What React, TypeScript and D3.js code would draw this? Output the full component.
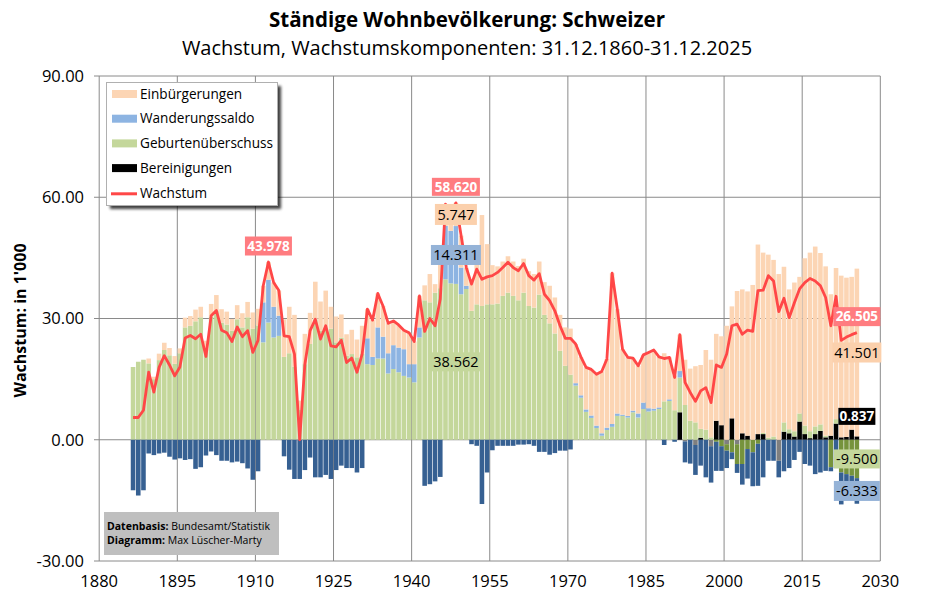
import React from 'react';
import * as d3 from 'd3';

// Ständige Wohnbevölkerung Schweizer, Werte in 1'000, ab 1886
const firstYear = 1886;

const einbuergerungen = [
  0, 0, 0, 1.2, 0.6, 1.6, 1.8, 1.8, 1.9, 1.2,
  2.4, 2.4, 2.9, 2.6, 2.0, 3.1, 3.8, 3.3, 3.2, 2.9,
  3.5, 3.5, 3.8, 4.0, 4.1, 4.1, 4.378, 6.0, 6.2, 9.3,
  11.5, 12.8, 2.2, 7.5, 7.7, 9.3, 7.2, 9.1, 5.4, 6.4,
  5.7, 5.3, 6.0, 4.4, 7.0, 7.2, 9.1, 8.4, 7.6, 7.4,
  6.0, 5.6, 4.7, 7.8, 5.6, 7.8, 3.7, 7.0, 2.1, 6.5,
  5.4, 3.7, 5.747, 7.9, 4.5, 7.7, 10.2, 22.5, 14.9, 9.7,
  9.2, 8.5, 9.0, 8.5, 8.5, 8.4, 8.6, 8.3, 8.2, 8.1,
  9.3, 8.9, 8.9, 9.5, 11.4, 9.7, 9.5, 10.4, 11.4, 12.7,
  15.3, 17.0, 37.3, 25.8, 16.2, 14.5, 13.0, 11.8, 11.8, 13.8,
  14.5, 12.5, 11.9, 10.4, 8.6, 9.0, 11.2, 12.9, 13.9, 15.8,
  19.7, 19.2, 21.5, 22.0, 28.2, 27.7, 36.8, 35.6, 35.7, 38.3,
  46.9, 44.6, 45.3, 43.7, 41.0, 38.5, 34.6, 36.8, 33.8, 41.4,
  44.2, 44.5, 42.4, 41.9, 35.0, 37.4, 40.0, 39.4, 37.8, 41.501,
];

const wanderungssaldo = [
  -12.5, -13.8, -12.5, -3.4, -3.8, -3.4, -3.2, -4.2, -4.9, -4.6,
  -5.0, -4.8, -7.2, -6.8, -3.9, -2.9, -3.8, -5.2, -5.2, -5.6,
  -5.4, -5.8, -7.1, -9.9, -7.8, 9.9, 10.6, 7.6, 5.0, -4.1,
  -7.4, -9.7, -9.7, -7.5, -4.4, -9.3, -9.3, -8.7, -9.7, -7.5,
  -6.4, -7.0, -7.0, -8.1, -7.0, 6.4, 2.0, 7.7, 5.4, 5.0,
  5.9, 6.1, 6.6, 3.3, 4.5, 2.5, -11.4, -11.0, -10.3, -9.2,
  13.2, 13.0, 14.311, 6.6, 0.8, -1.1, -1.5, -15.9, -8.1, -2.6,
  -1.5, -1.5, -1.5, -1.5, -1.2, -1.2, -1.1, -1.5, -3.0, -3.0,
  -3.7, -3.3, -2.7, -2.7, -2.4, 0.6, 0.6, 0.6, 0.6, 0.6,
  0.6, 0.6, 0.7, 0.6, 0.3, 0.4, 0.4, 1.0, 1.6, 0.8,
  0.5, 0.4, -1.3, 0.4, -0.5, 1.6, -5.2, -5.9, -7.4, -6.4,
  -9.3, -9.0, -7.2, -6.1, -4.3, -1.7, -2.2, -5.1, -7.3, -8.4,
  -10.4, -9.3, -5.2, -5.2, -4.1, -7.8, -7.0, -5.0, -3.0, -6.0,
  -6.4, -8.5, -8.1, -7.7, -1.0, -7.0, -7.9, -6.2, -5.4, -6.333,
];

const geburtenueberschuss = [
  18.0, 19.3, 19.8, 18.9, 15.0, 19.7, 22.2, 20.9, 18.8, 21.4,
  27.8, 28.2, 29.3, 30.3, 22.5, 30.5, 32.0, 29.0, 28.5, 27.0,
  29.8, 27.8, 30.3, 27.5, 28.3, 24.1, 29.0, 25.3, 25.7, 20.5,
  21.4, 18.1, 7.5, 18.7, 23.7, 29.8, 27.0, 27.8, 27.5, 24.1,
  25.3, 20.8, 21.2, 20.4, 21.2, 18.7, 18.5, 20.1, 20.1, 16.4,
  17.5, 16.7, 15.8, 15.4, 14.2, 25.3, 34.5, 34.0, 36.4, 37.5,
  39.7, 38.7, 38.562, 36.0, 37.3, 31.9, 33.5, 33.1, 33.5, 33.5,
  33.7, 35.6, 36.4, 35.6, 34.5, 36.4, 33.1, 32.7, 35.9, 30.9,
  28.8, 26.3, 22.0, 18.3, 16.1, 13.4, 10.4, 6.9, 5.4, 2.9,
  1.0, 2.4, 3.2, 5.9, 5.9, 5.5, 6.8, 5.5, 7.6, 7.0,
  7.2, 7.6, 9.5, 9.6, 7.3, 8.6, 8.6, 4.7, 4.3, 2.2,
  2.5, 0.6, -0.5, -1.6, -1.6, -3.1, -4.9, -6.0, -2.3, -3.1,
  -1.0, 0.3, 0.5, 0.8, 0.0, 2.3, 1.0, 1.3, 2.0, 2.1,
  1.7, 1.9, 1.6, 0.4, -6.8, 1.1, -8.1, -8.5, -8.9, -9.5,
];

// Bereinigungen erst ab 1986 (vorher keine)
const bereinigungenStart = 1986;
const bereinigungen = [
  0, 0, 0, 0, 0, 6.8, -0.4, 0, -1.3, 0.5,
  0, -1.6, 4.7, 3.6, -1.1, 5.3, -1.1, 1.6, 1.0, 0,
  1.4, 1.4, 0, 0, -5.2, 2.0, 1.6, 0.8, 4.5, 1.4,
  0.4, 1.4, 2.2, 0.6, 1.0, 4.0, 0.6, 0.7, 2.5, 0.837,
];

const wachstum = [
  5.5, 5.5, 7.3, 16.7, 11.8, 17.9, 20.8, 18.5, 15.8, 18.0,
  25.2, 25.8, 25.0, 26.1, 20.6, 30.7, 32.0, 27.1, 26.5, 24.3,
  27.9, 25.5, 27.0, 21.6, 24.6, 38.1, 43.978, 38.9, 36.9, 25.7,
  25.5, 21.2, 0.0, 18.7, 27.0, 29.8, 24.9, 28.2, 23.2, 23.0,
  24.6, 19.1, 20.2, 16.7, 21.2, 32.3, 29.6, 36.2, 33.1, 28.8,
  29.4, 28.4, 27.1, 26.5, 24.3, 35.6, 26.8, 30.0, 28.2, 34.8,
  58.3, 55.4, 58.62, 50.5, 42.6, 38.5, 42.2, 39.7, 40.3, 40.6,
  41.4, 42.6, 43.9, 42.6, 41.8, 43.6, 40.6, 39.5, 41.1, 36.0,
  34.4, 31.9, 28.2, 25.1, 25.1, 23.7, 20.5, 17.9, 17.4, 16.2,
  16.9, 20.0, 41.2, 32.3, 22.4, 20.4, 20.2, 18.3, 21.0, 21.6,
  22.2, 20.5, 20.1, 20.4, 15.4, 26.0, 14.2, 11.7, 9.5, 12.1,
  12.9, 9.2, 18.5, 17.9, 21.2, 28.2, 28.6, 26.1, 27.1, 26.8,
  36.9, 37.0, 40.6, 39.3, 31.7, 35.0, 30.2, 33.9, 37.3, 38.9,
  39.9, 39.3, 38.1, 35.2, 28.2, 35.5, 24.6, 25.4, 26.0, 26.505,
];

const xTicks = [1880, 1895, 1910, 1925, 1940, 1955, 1970, 1985, 2000, 2015, 2030];
const yTicks = [-30, 0, 30, 60, 90];

const C = {
  einb: '#fcd5b4',
  wandPos: '#8db4e2',
  wandNeg: '#366092',
  gebPos: '#c4d79b',
  gebNeg: '#76933c',
  berPos: '#000000',
  berNeg: '#7f7f7f',
  line: '#ff4747',
  grid: '#8a8a8a',
  red: '#ff7c80',
};

const FONT = '"Open Sans", "Noto Sans", sans-serif';

const width = 934;
const height = 597;

const x = d3.scaleLinear().domain([1880, 2030]).range([99.2, 880.3]);
const y = d3.scaleLinear().domain([-30, 90]).range([561, 76]);

const years = wachstum.map((_, i) => firstYear + i);
const bw = (x(1881) - x(1880)) * 0.88;

function berOf(year: number) {
  const k = year - bereinigungenStart;
  return k >= 0 ? bereinigungen[k] : 0;
}

type Seg = { year: number; y0: number; y1: number; color: string };

function buildSegments(): Seg[] {
  const segs: Seg[] = [];
  years.forEach((year, i) => {
    const parts = [
      { v: berOf(year), pos: C.berPos, neg: C.berNeg },
      { v: geburtenueberschuss[i], pos: C.gebPos, neg: C.gebNeg },
      { v: wanderungssaldo[i], pos: C.wandPos, neg: C.wandNeg },
      { v: einbuergerungen[i], pos: C.einb, neg: C.einb },
    ];
    let up = 0;
    let down = 0;
    parts.forEach((p) => {
      if (p.v === 0) return;
      if (p.v > 0) {
        segs.push({ year, y0: up, y1: up + p.v, color: p.pos });
        up += p.v;
      } else {
        segs.push({ year, y0: down + p.v, y1: down, color: p.neg });
        down += p.v;
      }
    });
  });
  return segs;
}

// Excel zeigt Bindestrich statt Minuszeichen
const fmt = (v: number) => v.toFixed(3);

function Label({ cx, cy, w, h, fill, text, color, bold }: any) {
  return (
    <g>
      <rect x={cx - w / 2} y={cy - h / 2} width={w} height={h} fill={fill} />
      <text
        x={cx}
        y={cy}
        dy="0.36em"
        textAnchor="middle"
        fontSize={bold ? 13.5 : 14.5}
        fontWeight={bold ? 700 : 400}
        fill={color}
        fontFamily={FONT}
      >
        {text}
      </text>
    </g>
  );
}

export default function App() {
  const segs = buildSegments();
  const line = d3
    .line<number>()
    .x((_, i) => x(years[i] + 0.5))
    .y((d) => y(d));

  const legendItems = [
    { label: 'Einbürgerungen', color: C.einb, kind: 'rect' },
    { label: 'Wanderungssaldo', color: C.wandPos, kind: 'rect' },
    { label: 'Geburtenüberschuss', color: C.gebPos, kind: 'rect' },
    { label: 'Bereinigungen', color: C.berPos, kind: 'rect' },
    { label: 'Wachstum', color: C.line, kind: 'line' },
  ];

  // Beschriftete Jahre
  const iMax = wachstum.indexOf(d3.max(wachstum) as number);
  const yMax = years[iMax];
  const i1912 = 1912 - firstYear;
  const iLast = years.length - 1;
  const yLast = years[iLast];

  const gMax = geburtenueberschuss[iMax];
  const wMax = wanderungssaldo[iMax];
  const eMax = einbuergerungen[iMax];
  const bLast = berOf(yLast);
  const gLast = geburtenueberschuss[iLast];
  const wLast = wanderungssaldo[iLast];
  const eLast = einbuergerungen[iLast];

  return (
    <svg
      width={width}
      height={height}
      style={{ position: 'absolute', left: 0, top: 0, background: '#fff' }}
      fontFamily={FONT}
    >
      <defs>
        <filter id="shadow" x="-10%" y="-10%" width="130%" height="130%">
          <feGaussianBlur stdDeviation="1.6" />
        </filter>
      </defs>

      {/* Titel */}
      <text x={467} y={27} textAnchor="middle" fontSize={20.5} fontWeight={700}>
        Ständige Wohnbevölkerung: Schweizer
      </text>
      <text x={467} y={54.5} textAnchor="middle" fontSize={20}>
        Wachstum, Wachstumskomponenten: 31.12.1860-31.12.2025
      </text>

      {/* Gitter */}
      {yTicks.map((t) => (
        <g key={'y' + t}>
          <line x1={94} x2={x(2030)} y1={y(t)} y2={y(t)} stroke={C.grid} strokeWidth={1} />
          <text x={84} y={y(t)} dy="0.35em" textAnchor="end" fontSize={16.5}>
            {t.toFixed(2)}
          </text>
        </g>
      ))}
      {xTicks.map((t) => (
        <g key={'x' + t}>
          <line x1={x(t)} x2={x(t)} y1={y(90)} y2={y(-30)} stroke={C.grid} strokeWidth={1} />
          <text x={x(t)} y={587} textAnchor="middle" fontSize={16.5}>
            {t}
          </text>
        </g>
      ))}

      <text
        transform={`translate(26,${(y(90) + y(-30)) / 2 + 2}) rotate(-90)`}
        textAnchor="middle"
        fontSize={16}
        fontWeight={700}
      >
        Wachstum: in 1'000
      </text>

      {/* Balken */}
      {segs.map((s, i) => (
        <rect
          key={i}
          x={x(s.year + 0.5) - bw / 2}
          width={bw}
          y={y(s.y1)}
          height={Math.max(0, y(s.y0) - y(s.y1))}
          fill={s.color}
        />
      ))}

      {/* Wachstum */}
      <path
        d={line(wachstum) as string}
        fill="none"
        stroke={C.line}
        strokeWidth={2.8}
        strokeLinejoin="round"
      />

      {/* Datenbeschriftungen */}
      <Label cx={x(1912.5)} cy={y(wachstum[i1912]) - 16} w={47} h={19} fill={C.red} text={fmt(wachstum[i1912])} color="#fff" bold />
      <Label cx={x(yMax + 0.5)} cy={y(wachstum[iMax]) - 16} w={48} h={18} fill={C.red} text={fmt(wachstum[iMax])} color="#fff" bold />
      <Label cx={x(yMax + 0.5)} cy={y(gMax + wMax + eMax / 2)} w={42} h={21} fill="#fbd0ac" text={fmt(eMax)} color="#000" />
      <Label cx={x(yMax + 0.5)} cy={y(gMax + wMax / 2)} w={50} h={20} fill="#95b3d7" text={fmt(wMax)} color="#000" />
      <Label cx={x(yMax + 0.5)} cy={y(gMax / 2)} w={48} h={19} fill={C.gebPos} text={fmt(gMax)} color="#000" />

      <Label cx={x(yLast + 0.5)} cy={y(wachstum[iLast]) - 16} w={47} h={19} fill={C.red} text={fmt(wachstum[iLast])} color="#fff" bold />
      <Label cx={x(yLast + 0.5)} cy={y(bLast + eLast / 2)} w={49} h={20} fill="#fbd0ac" text={fmt(eLast)} color="#000" />
      <Label cx={x(yLast + 0.5)} cy={y(bLast) - 20} w={37} h={17} fill="#000" text={fmt(bLast)} color="#fff" bold />
      <Label cx={x(yLast + 0.5)} cy={y(gLast / 2)} w={46} h={19} fill={C.gebPos} text={fmt(gLast)} color="#000" />
      <Label cx={x(yLast + 0.5)} cy={y(gLast + wLast / 2)} w={46} h={20} fill="#95b3d7" text={fmt(wLast)} color="#000" />

      {/* Legende */}
      <rect x={110} y={86} width={171} height={123} fill="#000" opacity={0.75} filter="url(#shadow)" />
      <rect x={106.5} y={82.5} width={171} height={123} fill="#fff" stroke="#b0b0b0" strokeWidth={1} />
      {legendItems.map((it, i) => {
        const cy = 94 + i * 24.7;
        return (
          <g key={it.label}>
            {it.kind === 'rect' ? (
              <rect x={112} y={cy - 4} width={25} height={8} fill={it.color} />
            ) : (
              <line x1={111} x2={137} y1={cy + 1} y2={cy + 1} stroke={it.color} strokeWidth={3} />
            )}
            <text x={140} y={cy} dy="0.35em" fontSize={13.6}>
              {it.label}
            </text>
          </g>
        );
      })}

      {/* Quelle */}
      <rect x={104} y={512} width={175} height={43} fill="#bfbfbf" />
      <text x={107} y={530} fontSize={10.5}>
        <tspan fontWeight={700}>Datenbasis:</tspan> Bundesamt/Statistik
      </text>
      <text x={107} y={544} fontSize={10.5}>
        <tspan fontWeight={700}>Diagramm:</tspan> Max Lüscher-Marty
      </text>
    </svg>
  );
}
